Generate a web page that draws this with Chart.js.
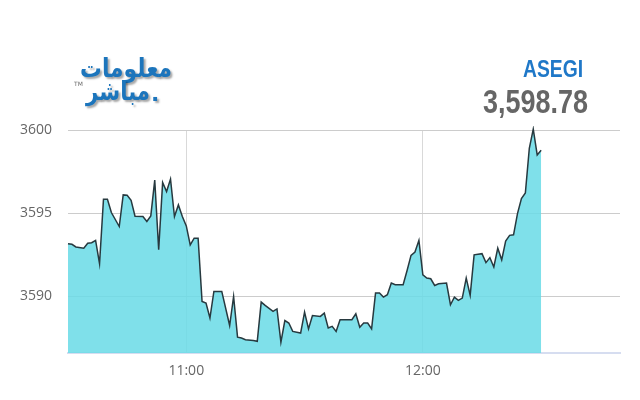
<!DOCTYPE html>
<html>
<head>
<meta charset="utf-8">
<script src="https://cdn.jsdelivr.net/npm/chart.js@4"></script>
<style>
  html, body { margin: 0; background: #fff; }
</style>
</head>
<body>
<canvas id="indexChart" width="640" height="400"></canvas>
<script>
// ASEGI intraday, one point a minute (some minutes skipped)
const times = [
  '10:30','10:31','10:32','10:34','10:35','10:36','10:37','10:38','10:39','10:40',
  '10:41','10:43','10:44','10:45','10:46','10:47','10:49','10:50','10:51','10:52',
  '10:53','10:54','10:55','10:56','10:57','10:58','10:59','11:00','11:01','11:02',
  '11:03','11:04','11:05','11:06','11:07','11:09','11:11','11:12','11:13','11:14',
  '11:15','11:17','11:18','11:19','11:20','11:22','11:23','11:24','11:25','11:26',
  '11:27','11:29','11:30','11:31','11:32','11:34','11:35','11:36','11:37','11:38',
  '11:39','11:42','11:43','11:44','11:45','11:46','11:47','11:48','11:49','11:50',
  '11:51','11:52','11:53','11:55','11:56','11:57','11:58','11:59','12:00','12:01',
  '12:02','12:03','12:04','12:06','12:07','12:08','12:09','12:10','12:11','12:12',
  '12:13','12:15','12:16','12:17','12:18','12:19','12:20','12:21','12:22','12:23',
  '12:24','12:25','12:26','12:27','12:28','12:29','12:30'
];
const values = [
  3593.17,3593.13,3592.97,3592.9,3593.2,3593.23,3593.37,3591.97,3595.84,3595.84,
  3595.04,3594.2,3596.1,3596.08,3595.78,3594.82,3594.8,3594.5,3594.84,3596.99,
  3592.8,3596.85,3596.3,3597.05,3594.8,3595.5,3594.8,3594.24,3593.1,3593.5,
  3593.5,3589.7,3589.6,3588.7,3590.3,3590.3,3588.25,3590.0,3587.55,3587.5,
  3587.4,3587.35,3587.3,3589.66,3589.46,3589.1,3589.25,3587.25,3588.55,3588.4,
  3587.9,3587.8,3589.06,3588.05,3588.85,3588.8,3589.0,3588.1,3588.2,3587.9,
  3588.6,3588.6,3588.96,3588.15,3588.4,3588.4,3588.05,3590.2,3590.2,3589.96,
  3590.1,3590.8,3590.7,3590.7,3591.56,3592.47,3592.67,3593.37,3591.3,3591.1,
  3591.06,3590.66,3590.76,3590.8,3589.5,3589.96,3589.76,3589.9,3591.1,3590.06,
  3592.5,3592.57,3592.03,3592.33,3591.77,3592.9,3592.2,3593.33,3593.67,3593.7,
  3594.98,3595.88,3596.22,3598.9,3600.05,3598.5,3598.78
];
const xTicks = ['11:00', '12:00'];
const yTicks = [3590, 3595, 3600];
const xRange = ['10:30', '12:50'];
const yRange = [3586.6, 3600];

const indexName = 'ASEGI';
const lastValue = '3,598.78';
const logoTop = 'معلومات';
const logoBottom = 'مباشر';

function toMin(s) {
  const p = s.split(':');
  return (+p[0]) * 60 + (+p[1]);
}
function fromMin(v) {
  const h = Math.floor(v / 60), m = v % 60;
  return h + ':' + (m < 10 ? '0' : '') + m;
}

// draw text squeezed/stretched to a given width
function fitText(ctx, text, x, y, w) {
  const m = ctx.measureText(text).width;
  ctx.save();
  ctx.translate(x, y);
  ctx.scale(w / m, 1);
  ctx.fillText(text, 0, 0);
  ctx.restore();
}

const headerPlugin = {
  id: 'header',
  afterDraw(chart) {
    const ctx = chart.ctx;
    ctx.save();
    ctx.textAlign = 'left';
    ctx.textBaseline = 'alphabetic';

    // logo
    ctx.shadowColor = 'rgba(0,0,0,0.35)';
    ctx.shadowOffsetX = 2;
    ctx.shadowOffsetY = 2;
    ctx.shadowBlur = 2;
    ctx.fillStyle = '#1c75bc';
    ctx.font = 'bold 26px "DejaVu Sans"';
    fitText(ctx, logoTop, 80, 77, 92);
    fitText(ctx, logoBottom, 86, 100, 64);
    ctx.font = 'bold 22px "DejaVu Sans"';
    ctx.fillText('.', 151, 101);
    ctx.shadowColor = 'transparent';
    ctx.fillStyle = '#6a6a6a';
    ctx.font = '6px "DejaVu Sans"';
    ctx.fillText('TM', 74, 86);

    // index name and last value
    ctx.fillStyle = '#1f78c8';
    ctx.font = 'bold 24px "Liberation Sans Narrow", "Liberation Sans", Arial';
    fitText(ctx, indexName, 523, 77, 60);
    ctx.fillStyle = '#666666';
    ctx.font = 'bold 33px "Liberation Sans Narrow", "Liberation Sans", Arial';
    fitText(ctx, lastValue, 483, 113, 105);
    ctx.restore();
  }
};

new Chart(document.getElementById('indexChart'), {
  type: 'line',
  data: {
    datasets: [{
      data: times.map((t, i) => ({ x: toMin(t), y: values[i] })),
      borderColor: '#27393f',
      borderWidth: 1.5,
      backgroundColor: 'rgba(104,219,230,0.85)',
      fill: 'start',
      pointRadius: 0,
      tension: 0,
      clip: 4
    }]
  },
  options: {
    responsive: false,
    animation: false,
    devicePixelRatio: 1,
    layout: { padding: { top: 130, right: 20, bottom: 0, left: 0 } },
    plugins: { legend: { display: false }, tooltip: { enabled: false } },
    scales: {
      x: {
        type: 'linear',
        min: toMin(xRange[0]),
        max: toMin(xRange[1]),
        afterBuildTicks: s => { s.ticks = xTicks.map(t => ({ value: toMin(t) })); },
        afterFit: s => { s.height = 47; },
        ticks: {
          callback: v => fromMin(v),
          color: '#666',
          font: { family: '"Open Sans"', size: 14 },
          padding: 10,
          maxRotation: 0,
          autoSkip: false
        },
        grid: { color: '#d9d9d9', drawTicks: false },
        border: { display: true, color: '#d6ddf0', width: 2 }
      },
      y: {
        min: yRange[0],
        max: yRange[1],
        afterBuildTicks: s => { s.ticks = yTicks.map(v => ({ value: v })); },
        afterFit: s => { s.width = 68; },
        ticks: {
          callback: v => String(v),
          color: '#666',
          font: { family: '"Open Sans"', size: 14 },
          padding: 16
        },
        grid: { color: '#cccccc', drawTicks: false },
        border: { display: false }
      }
    }
  },
  plugins: [headerPlugin]
});
</script>
</body>
</html>
